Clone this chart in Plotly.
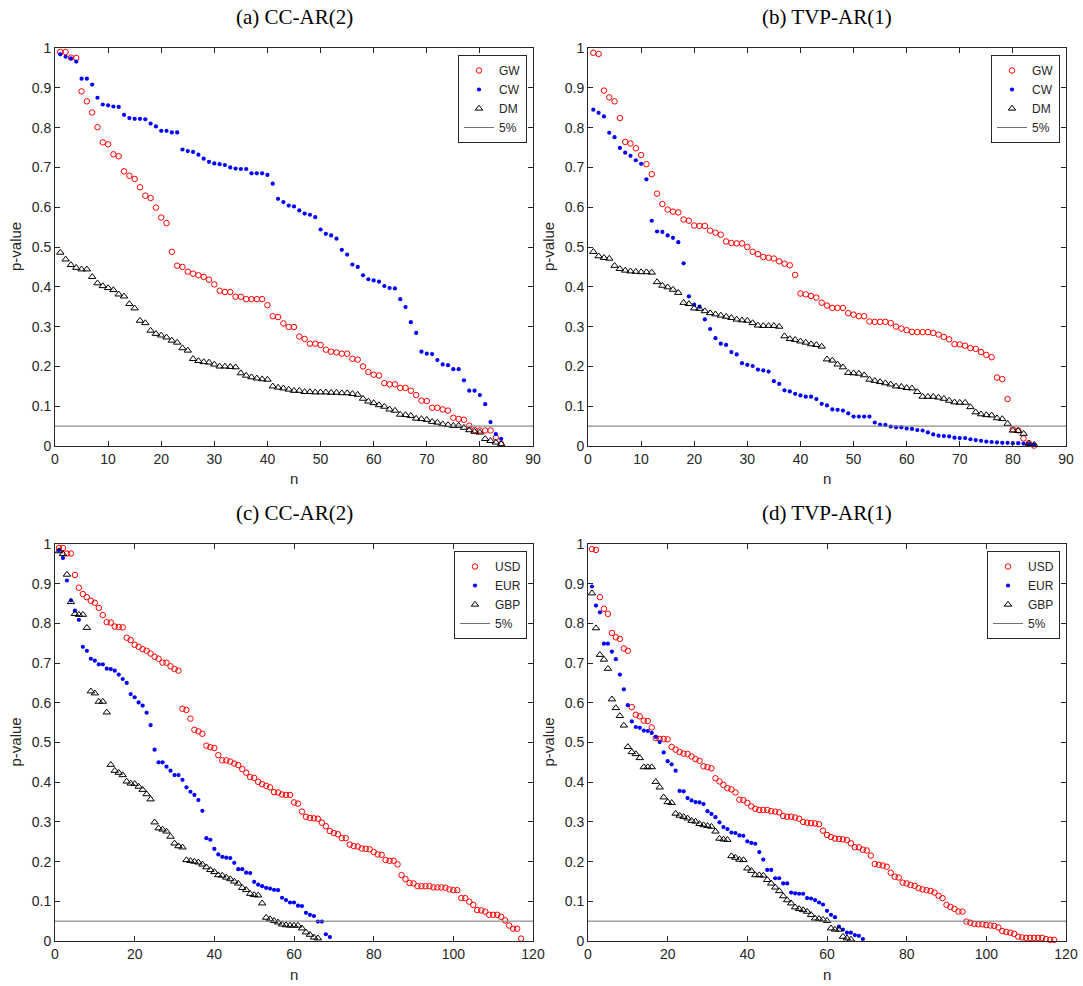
import plotly.graph_objects as go

# ---- p-values, sorted in decreasing order, one list per test / currency ----
# (a) CC-AR(2): tests GW, CW, DM
a_gw = [0.990, 0.990, 0.976, 0.975, 0.891, 0.866, 0.838, 0.801, 0.763, 0.758, 0.733, 0.728, 0.690, 0.679, 0.671,
        0.650, 0.629, 0.623, 0.599, 0.574, 0.560, 0.488, 0.453, 0.450, 0.438, 0.433, 0.429, 0.425, 0.418,
        0.406, 0.390, 0.387, 0.387, 0.375, 0.375, 0.369, 0.369, 0.369, 0.369, 0.354, 0.326, 0.324, 0.308, 0.299,
        0.299, 0.275, 0.269, 0.257, 0.257, 0.254, 0.242, 0.237, 0.235, 0.232, 0.232, 0.219, 0.217, 0.200, 0.186,
        0.179, 0.177, 0.158, 0.155, 0.155, 0.146, 0.146, 0.139, 0.128, 0.114, 0.113, 0.096, 0.096, 0.092, 0.089,
        0.071, 0.068, 0.066, 0.051, 0.040, 0.039, 0.039, 0.039, 0.021, 0.005]
a_cw = [0.984, 0.978, 0.974, 0.966, 0.923, 0.923, 0.908, 0.875, 0.858, 0.856, 0.853, 0.852, 0.832, 0.824, 0.822,
        0.822, 0.821, 0.810, 0.803, 0.792, 0.792, 0.788, 0.788, 0.745, 0.741, 0.739, 0.732, 0.722, 0.714,
        0.710, 0.708, 0.706, 0.700, 0.697, 0.696, 0.696, 0.685, 0.685, 0.685, 0.681, 0.659, 0.621, 0.613, 0.604,
        0.602, 0.592, 0.584, 0.581, 0.575, 0.544, 0.533, 0.529, 0.521, 0.493, 0.481, 0.456, 0.450, 0.429, 0.419,
        0.416, 0.413, 0.402, 0.397, 0.396, 0.369, 0.349, 0.311, 0.284, 0.237, 0.232, 0.231, 0.216, 0.205, 0.203,
        0.193, 0.193, 0.165, 0.139, 0.139, 0.128, 0.105, 0.060, 0.030, 0.018]
a_dm = [0.486, 0.469, 0.455, 0.448, 0.444, 0.444, 0.425, 0.409, 0.402, 0.397, 0.392, 0.381, 0.376, 0.357, 0.346,
        0.315, 0.309, 0.290, 0.282, 0.278, 0.273, 0.265, 0.260, 0.246, 0.240, 0.219, 0.214, 0.211, 0.210,
        0.205, 0.200, 0.200, 0.199, 0.198, 0.183, 0.177, 0.173, 0.170, 0.168, 0.167, 0.150, 0.147, 0.145, 0.142,
        0.139, 0.139, 0.136, 0.136, 0.135, 0.135, 0.135, 0.134, 0.134, 0.133, 0.133, 0.131, 0.129, 0.119, 0.112,
        0.108, 0.103, 0.099, 0.092, 0.089, 0.079, 0.078, 0.076, 0.069, 0.068, 0.066, 0.061, 0.059, 0.055, 0.053,
        0.051, 0.051, 0.046, 0.040, 0.036, 0.034, 0.018, 0.013, 0.009, 0.005]

# (b) TVP-AR(1): tests GW, CW, DM
b_gw = [0.988, 0.985, 0.893, 0.876, 0.866, 0.824, 0.764, 0.760, 0.748, 0.731, 0.708, 0.683, 0.634, 0.608, 0.594,
        0.589, 0.587, 0.569, 0.566, 0.554, 0.553, 0.553, 0.541, 0.536, 0.531, 0.514, 0.510, 0.509, 0.509, 0.500,
        0.488, 0.482, 0.475, 0.473, 0.471, 0.464, 0.458, 0.454, 0.430, 0.383, 0.381, 0.377, 0.373, 0.360, 0.353,
        0.347, 0.347, 0.347, 0.334, 0.330, 0.326, 0.326, 0.313, 0.312, 0.312, 0.312, 0.309, 0.300, 0.295, 0.291,
        0.287, 0.286, 0.286, 0.286, 0.284, 0.280, 0.274, 0.268, 0.256, 0.255, 0.252, 0.246, 0.244, 0.236, 0.229,
        0.223, 0.172, 0.168, 0.118, 0.042, 0.039, 0.019, 0.007, 0.001]
b_cw = [0.845, 0.837, 0.828, 0.787, 0.776, 0.749, 0.737, 0.729, 0.718, 0.709, 0.670, 0.566, 0.539, 0.538, 0.529,
        0.523, 0.512, 0.459, 0.376, 0.355, 0.350, 0.318, 0.294, 0.271, 0.257, 0.254, 0.236, 0.230, 0.208, 0.204,
        0.201, 0.192, 0.190, 0.187, 0.163, 0.156, 0.140, 0.137, 0.131, 0.127, 0.124, 0.124, 0.118, 0.106, 0.102,
        0.092, 0.091, 0.089, 0.082, 0.074, 0.074, 0.074, 0.074, 0.059, 0.054, 0.053, 0.049, 0.047, 0.047, 0.044,
        0.043, 0.040, 0.039, 0.034, 0.029, 0.026, 0.025, 0.024, 0.021, 0.020, 0.020, 0.017, 0.015, 0.013, 0.011,
        0.010, 0.009, 0.008, 0.008, 0.007, 0.007, 0.006, 0.005, 0.003]
b_dm = [0.488, 0.477, 0.473, 0.471, 0.453, 0.445, 0.441, 0.439, 0.438, 0.437, 0.437, 0.436, 0.412, 0.403, 0.399,
        0.393, 0.385, 0.360, 0.357, 0.346, 0.345, 0.339, 0.334, 0.331, 0.328, 0.325, 0.322, 0.318, 0.316, 0.315,
        0.309, 0.303, 0.302, 0.302, 0.302, 0.300, 0.276, 0.269, 0.267, 0.263, 0.260, 0.256, 0.254, 0.250, 0.218,
        0.215, 0.205, 0.198, 0.184, 0.183, 0.182, 0.178, 0.167, 0.164, 0.161, 0.158, 0.155, 0.150, 0.149, 0.146,
        0.145, 0.136, 0.124, 0.124, 0.124, 0.122, 0.119, 0.114, 0.110, 0.109, 0.109, 0.098, 0.085, 0.080, 0.078,
        0.077, 0.070, 0.068, 0.056, 0.039, 0.038, 0.031, 0.006, 0.003]

# (c) CC-AR(2): currencies USD, EUR, GBP
c_usd = [0.990, 0.990, 0.976, 0.976, 0.922, 0.890, 0.874, 0.866, 0.857, 0.852, 0.839, 0.821, 0.803, 0.802, 0.792,
         0.791, 0.790, 0.764, 0.758, 0.746, 0.741, 0.735, 0.731, 0.724, 0.716, 0.711, 0.701, 0.701, 0.692, 0.685,
         0.681, 0.585, 0.582, 0.560, 0.532, 0.528, 0.522, 0.492, 0.488,
         0.486, 0.468, 0.455, 0.455, 0.452, 0.447, 0.443, 0.433, 0.424, 0.413, 0.411, 0.401, 0.395, 0.391, 0.387,
         0.375, 0.374, 0.369, 0.368, 0.368, 0.349, 0.346, 0.326, 0.313, 0.310, 0.309, 0.308, 0.298, 0.289, 0.277,
         0.272, 0.269, 0.259, 0.259, 0.243, 0.239, 0.238, 0.233, 0.232, 0.231,
         0.224, 0.218, 0.217, 0.204, 0.202, 0.202, 0.193, 0.166, 0.156, 0.146, 0.145, 0.138, 0.138, 0.138, 0.138,
         0.135, 0.135, 0.135, 0.134, 0.130, 0.128, 0.128, 0.108, 0.108, 0.099, 0.091, 0.078, 0.077, 0.074, 0.066,
         0.066, 0.066, 0.061, 0.052, 0.039, 0.031, 0.031, 0.006]
c_eur = [0.984, 0.965, 0.908, 0.858, 0.832, 0.809, 0.741, 0.731, 0.711, 0.706, 0.697, 0.697, 0.686, 0.685, 0.681,
         0.671, 0.660, 0.650, 0.622, 0.614, 0.601, 0.593, 0.575, 0.544, 0.482, 0.450, 0.450, 0.439, 0.429, 0.418,
         0.418, 0.406, 0.387, 0.376, 0.368, 0.355, 0.328, 0.259, 0.255,
         0.232, 0.218, 0.212, 0.210, 0.209, 0.197, 0.181, 0.181, 0.172, 0.171, 0.149, 0.142, 0.138, 0.134, 0.132,
         0.129, 0.128, 0.109, 0.103, 0.097, 0.097, 0.089, 0.088, 0.071, 0.066, 0.063, 0.049, 0.049, 0.017, 0.010]
c_gbp = [0.982, 0.975, 0.923, 0.854, 0.824, 0.822, 0.822, 0.789, 0.629, 0.624, 0.603, 0.603, 0.576, 0.444, 0.429,
         0.424, 0.418, 0.402, 0.397, 0.396, 0.389, 0.381, 0.370, 0.357, 0.299, 0.284, 0.281, 0.276, 0.263, 0.246,
         0.239, 0.236, 0.204, 0.202, 0.200, 0.198, 0.193, 0.186, 0.179,
         0.174, 0.166, 0.165, 0.160, 0.156, 0.150, 0.145, 0.134, 0.129, 0.119, 0.116, 0.115, 0.095, 0.059, 0.055,
         0.051, 0.047, 0.042, 0.040, 0.039, 0.039, 0.039, 0.032, 0.022, 0.016, 0.009, 0.007]

# (d) TVP-AR(1): currencies USD, EUR, GBP
d_usd = [0.987, 0.985, 0.866, 0.837, 0.824, 0.776, 0.765, 0.761, 0.737, 0.731, 0.589, 0.570, 0.566, 0.555, 0.554,
         0.538, 0.511, 0.509, 0.509, 0.508, 0.489, 0.482, 0.476, 0.472, 0.471, 0.465, 0.458, 0.454, 0.440, 0.438,
         0.435, 0.410, 0.402, 0.393, 0.385, 0.382, 0.374, 0.356, 0.355, 0.348, 0.339,
         0.333, 0.330, 0.330, 0.330, 0.327, 0.326, 0.324, 0.315, 0.313, 0.313, 0.311, 0.308, 0.300, 0.298, 0.297,
         0.296, 0.294, 0.278, 0.267, 0.262, 0.258, 0.257, 0.256, 0.254, 0.246, 0.236, 0.236, 0.230, 0.228, 0.215,
         0.194, 0.192, 0.190, 0.187, 0.172, 0.162, 0.160, 0.147,
         0.145, 0.141, 0.139, 0.133, 0.130, 0.128, 0.126, 0.122, 0.114, 0.108, 0.091, 0.086, 0.081, 0.074, 0.074,
         0.049, 0.046, 0.043, 0.042, 0.042, 0.040, 0.039, 0.038, 0.034, 0.025, 0.023, 0.021, 0.018, 0.011, 0.009,
         0.008, 0.008, 0.008, 0.008, 0.008, 0.005, 0.003, 0.003]
d_eur = [0.893, 0.845, 0.828, 0.749, 0.749, 0.729, 0.710, 0.671, 0.634, 0.594, 0.553, 0.539, 0.537, 0.530, 0.529,
         0.524, 0.514, 0.501, 0.475, 0.453, 0.445, 0.429, 0.378, 0.377, 0.360, 0.354, 0.350, 0.349, 0.345, 0.327,
         0.320, 0.312, 0.299, 0.287, 0.282, 0.273, 0.272, 0.266, 0.265, 0.251, 0.247,
         0.245, 0.224, 0.205, 0.179, 0.179, 0.158, 0.158, 0.145, 0.145, 0.122, 0.120, 0.119, 0.119, 0.108, 0.107,
         0.103, 0.097, 0.092, 0.076, 0.066, 0.060, 0.036, 0.029, 0.021, 0.021, 0.015, 0.013, 0.005]
d_gbp = [0.876, 0.788, 0.721, 0.709, 0.686, 0.609, 0.587, 0.567, 0.543, 0.489, 0.476, 0.471, 0.461, 0.438, 0.438,
         0.438, 0.401, 0.387, 0.362, 0.350, 0.348, 0.321, 0.316, 0.313, 0.309, 0.303, 0.301, 0.295, 0.292, 0.290,
         0.288, 0.276, 0.258, 0.256, 0.255, 0.214, 0.210, 0.205, 0.204, 0.183, 0.177,
         0.166, 0.166, 0.165, 0.154, 0.145, 0.135, 0.126, 0.113, 0.103, 0.095, 0.085, 0.081, 0.078, 0.074, 0.066,
         0.057, 0.056, 0.054, 0.051, 0.032, 0.029, 0.029, 0.011, 0.007, 0.004]

panel_titles = ["(a) CC-AR(2)", "(b) TVP-AR(1)", "(c) CC-AR(2)", "(d) TVP-AR(1)"]
test_names = ["GW", "CW", "DM"]
currency_names = ["USD", "EUR", "GBP"]
threshold = 0.05
threshold_name = "5%"
x_range_top = [0, 90]
x_range_bottom = [0, 120]

# ---- styling ----
W, H = 1083, 986
AX_COL = "#262626"
SANS = "Liberation Sans, Arial, sans-serif"
SERIF = "Liberation Serif, DejaVu Serif, serif"

# plot-area rectangles in pixels: (left, right, top, bottom)
boxes = [(55, 533, 48, 446), (588, 1066, 48, 446),
         (55, 533, 544, 941), (588, 1066, 544, 941)]

styles = [
    dict(symbol="circle-open", size=5.5, color="#ff0000", line=dict(width=1, color="#ff0000")),
    dict(symbol="circle", size=4.2, color="#0000ff", line=dict(width=0)),
    dict(symbol="triangle-up-open", size=6.5, color="#000000", line=dict(width=1, color="#000000")),
]

panels = [
    ([a_gw, a_cw, a_dm], test_names, x_range_top, 10),
    ([b_gw, b_cw, b_dm], test_names, x_range_top, 10),
    ([c_usd, c_eur, c_gbp], currency_names, x_range_bottom, 20),
    ([d_usd, d_eur, d_gbp], currency_names, x_range_bottom, 20),
]

fig = go.Figure()
layout = dict(
    width=W, height=H, margin=dict(l=0, r=0, t=0, b=0),
    paper_bgcolor="white", plot_bgcolor="white", showlegend=True,
)
annotations = []

for i, ((series, names, xr, dx), box) in enumerate(zip(panels, boxes)):
    k = "" if i == 0 else str(i + 1)
    xa, ya = "x" + k, "y" + k
    leg = "legend" if i == 0 else "legend" + str(i + 1)
    left, right, top, bottom = box

    for vals, name, st in zip(series, names, styles):
        fig.add_trace(go.Scatter(
            x=list(range(1, len(vals) + 1)), y=vals, mode="markers", name=name,
            marker=st, xaxis=xa, yaxis=ya, legend=leg, cliponaxis=False,
        ))
    fig.add_trace(go.Scatter(
        x=xr, y=[threshold, threshold], mode="lines", name=threshold_name,
        line=dict(color="#707070", width=1), xaxis=xa, yaxis=ya, legend=leg,
    ))

    axis_common = dict(
        showline=True, linecolor=AX_COL, linewidth=1, mirror="ticks",
        ticks="inside", ticklen=5, tickcolor=AX_COL, showgrid=False, zeroline=False,
        tickfont=dict(family=SANS, size=14, color=AX_COL), automargin=False,
    )
    layout["xaxis" + k] = dict(
        axis_common, domain=[left / W, right / W], range=xr, dtick=dx, tick0=0,
        anchor=ya,
    )
    layout["yaxis" + k] = dict(
        axis_common, domain=[1 - bottom / H, 1 - top / H], range=[0, 1], dtick=0.1, tick0=0,
        anchor=xa,
    )

    layout[leg] = dict(
        x=(right - 6) / W, y=1 - (top + 7) / H, xanchor="right", yanchor="top",
        bgcolor="white", bordercolor=AX_COL, borderwidth=1,
        font=dict(family=SANS, size=12, color=AX_COL),
        tracegroupgap=0, itemwidth=30,
    )

    cx = (left + right) / 2
    annotations.append(dict(
        text=panel_titles[i], x=cx / W, y=1 - (top - 31) / H, xref="paper", yref="paper",
        xanchor="center", yanchor="middle", showarrow=False,
        font=dict(family=SERIF, size=21, color="#000000"),
    ))
    annotations.append(dict(
        text="n", x=cx / W, y=1 - (bottom + 33) / H, xref="paper", yref="paper",
        xanchor="center", yanchor="middle", showarrow=False,
        font=dict(family=SANS, size=15, color=AX_COL),
    ))
    annotations.append(dict(
        text="p-value", x=(left - 40) / W, y=1 - (top + bottom) / 2 / H, xref="paper", yref="paper",
        xanchor="center", yanchor="middle", showarrow=False, textangle=-90,
        font=dict(family=SANS, size=15, color=AX_COL),
    ))

layout["annotations"] = annotations
fig.update_layout(**layout)
fig.write_html("out.html")
